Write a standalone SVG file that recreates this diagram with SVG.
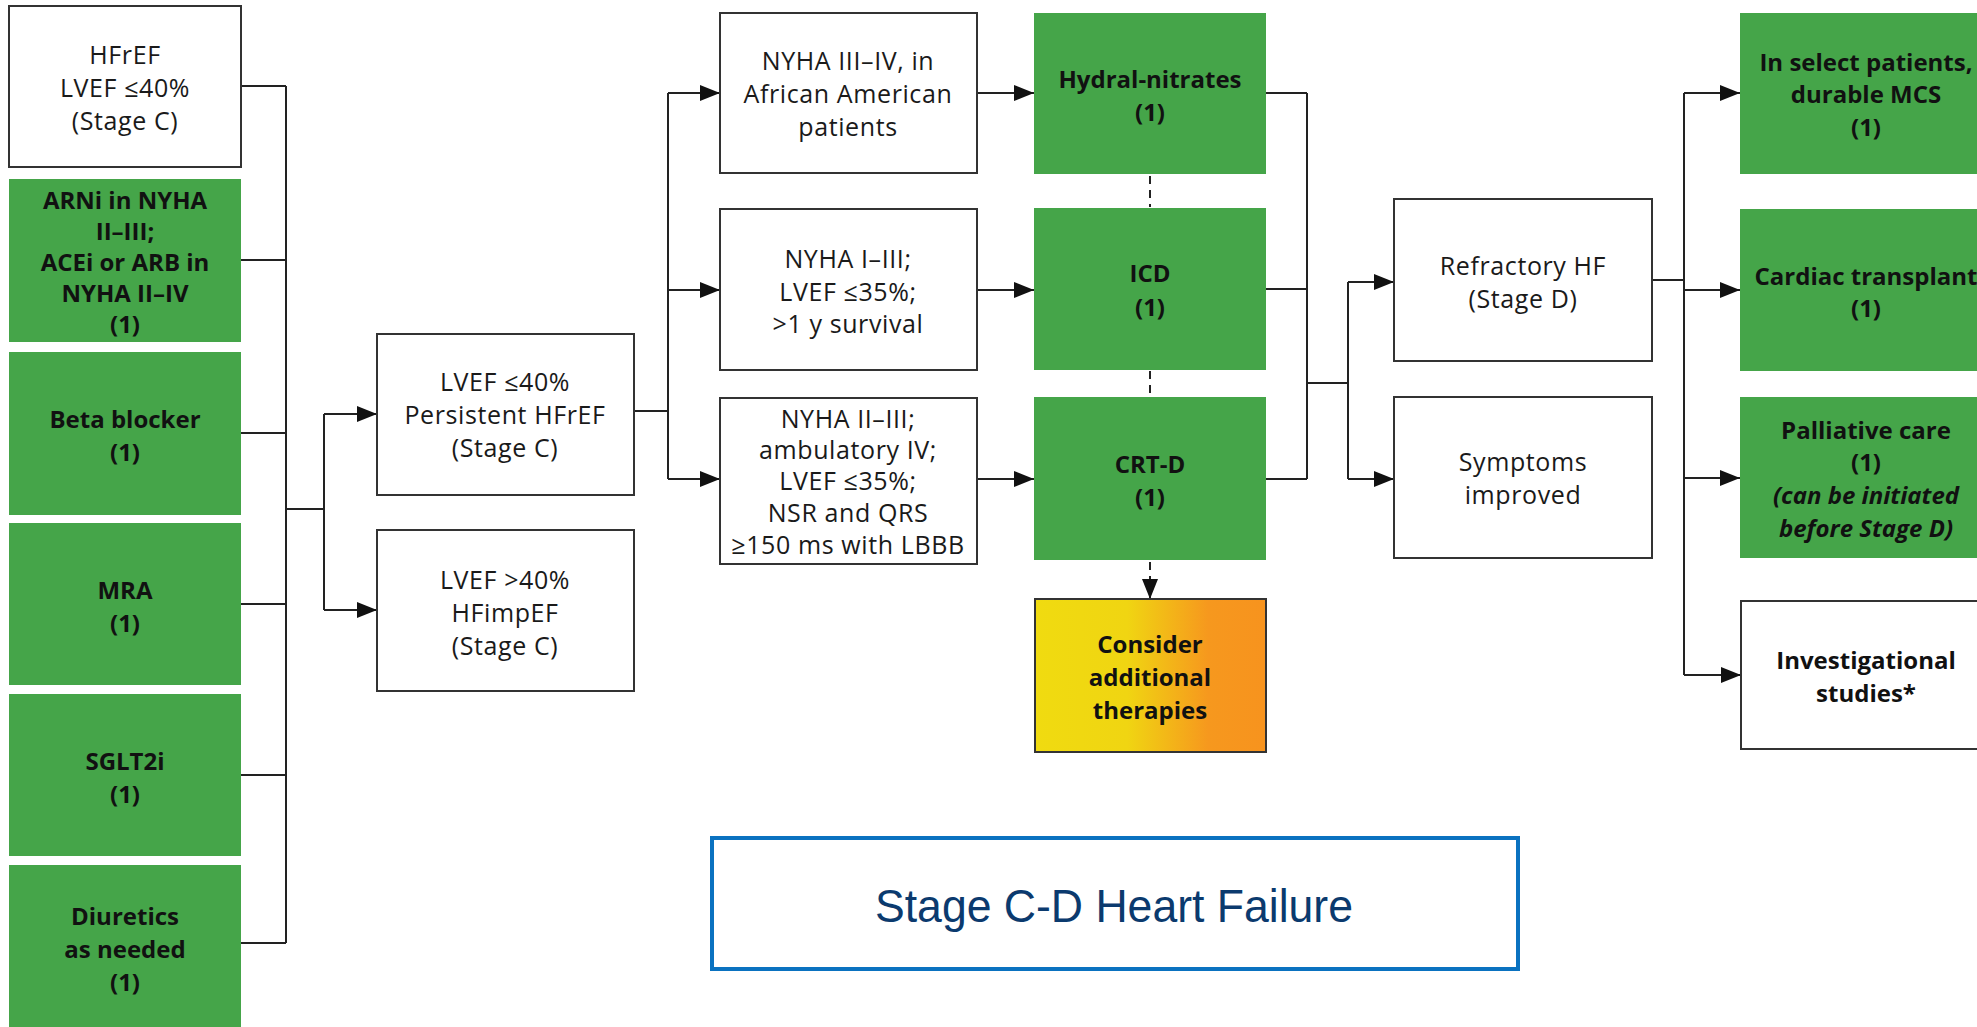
<svg xmlns="http://www.w3.org/2000/svg" width="1977" height="1027" viewBox="0 0 1977 1027">
  <style>
    .box { fill: #ffffff; stroke: #333333; stroke-width: 2; }
    .rx { fill: #45a549; stroke: none; }
    .t { font-family: "Open Sans", Lato, "Liberation Sans", sans-serif; font-size: 25px; letter-spacing: 0.6px; fill: #1a1a1a; text-anchor: middle; dominant-baseline: central; }
    .b { font-weight: bold; font-size: 24px; letter-spacing: 0; fill: #111111; }
    .i { font-style: italic; }
    .wire { fill: none; stroke: #222222; stroke-width: 2; }
    .dash { stroke-dasharray: 8 6; }
    .title { font-family: "Liberation Sans Narrow", "Liberation Sans", Arial, sans-serif; font-size: 46px; fill: #0b3a6e; text-anchor: middle; }
  </style>
  <defs>
    <marker id="arrow" markerUnits="userSpaceOnUse" markerWidth="20" markerHeight="16" viewBox="0 0 20 16" refX="20" refY="8" orient="auto">
      <path d="M0,0 L20,8 L0,16 z" fill="#111111"/>
    </marker>
    <linearGradient id="warm" x1="0" y1="0" x2="1" y2="0">
      <stop offset="0" stop-color="#f0db10"/>
      <stop offset="0.4" stop-color="#f0d512"/>
      <stop offset="0.75" stop-color="#f6981e"/>
      <stop offset="1" stop-color="#f7931e"/>
    </linearGradient>
  </defs>

  <rect width="1977" height="1027" fill="#ffffff"/>

  <!-- connectors -->
  <g id="connectors">
    <path class="wire" d="M241,86 H286 M241,260 H286 M241,433 H286 M241,604 H286 M241,775 H286 M241,943 H286 M286,86 V943 M286,509 H324 M324,414 V610"/>
    <path class="wire" marker-end="url(#arrow)" d="M324,414 H377"/>
    <path class="wire" marker-end="url(#arrow)" d="M324,610 H377"/>
    <path class="wire" d="M634,411 H668 M668,93 V479"/>
    <path class="wire" marker-end="url(#arrow)" d="M668,93 H720"/>
    <path class="wire" marker-end="url(#arrow)" d="M668,290 H720"/>
    <path class="wire" marker-end="url(#arrow)" d="M668,479 H720"/>
    <path class="wire" marker-end="url(#arrow)" d="M977,93 H1034"/>
    <path class="wire" marker-end="url(#arrow)" d="M977,290 H1034"/>
    <path class="wire" marker-end="url(#arrow)" d="M977,479 H1034"/>
    <path class="wire" d="M1266,93 H1307 M1266,289 H1307 M1266,479 H1307 M1307,93 V479 M1307,383 H1348 M1348,282 V479"/>
    <path class="wire" marker-end="url(#arrow)" d="M1348,282 H1394"/>
    <path class="wire" marker-end="url(#arrow)" d="M1348,479 H1394"/>
    <path class="wire" d="M1652,280 H1684 M1684,93 V675"/>
    <path class="wire" marker-end="url(#arrow)" d="M1684,93 H1740"/>
    <path class="wire" marker-end="url(#arrow)" d="M1684,290 H1740"/>
    <path class="wire" marker-end="url(#arrow)" d="M1684,478 H1740"/>
    <path class="wire" marker-end="url(#arrow)" d="M1684,675 H1741"/>
    <path class="wire dash" d="M1150,176 V207 M1150,371 V397"/>
    <path class="wire dash" marker-end="url(#arrow)" d="M1150,562 V599"/>
  </g>

  <!-- left column -->
  <g id="hfref">
    <rect class="box" x="9" y="6" width="232" height="161"/>
    <text class="t" x="125"><tspan x="125" y="54">HFrEF</tspan><tspan x="125" y="87">LVEF ≤40%</tspan><tspan x="125" y="120">(Stage C)</tspan></text>
  </g>
  <g id="arni">
    <rect class="rx" x="9" y="179" width="232" height="163"/>
    <text class="t b"><tspan x="125" y="199">ARNi in NYHA</tspan><tspan x="125" y="230">II–III;</tspan><tspan x="125" y="261">ACEi or ARB in</tspan><tspan x="125" y="292">NYHA II–IV</tspan><tspan x="125" y="323">(1)</tspan></text>
  </g>
  <g id="beta-blocker">
    <rect class="rx" x="9" y="352" width="232" height="163"/>
    <text class="t b"><tspan x="125" y="418">Beta blocker</tspan><tspan x="125" y="451">(1)</tspan></text>
  </g>
  <g id="mra">
    <rect class="rx" x="9" y="523" width="232" height="162"/>
    <text class="t b"><tspan x="125" y="589">MRA</tspan><tspan x="125" y="622">(1)</tspan></text>
  </g>
  <g id="sglt2i">
    <rect class="rx" x="9" y="694" width="232" height="162"/>
    <text class="t b"><tspan x="125" y="760">SGLT2i</tspan><tspan x="125" y="793">(1)</tspan></text>
  </g>
  <g id="diuretics">
    <rect class="rx" x="9" y="865" width="232" height="170"/>
    <text class="t b"><tspan x="125" y="915">Diuretics</tspan><tspan x="125" y="948">as needed</tspan><tspan x="125" y="981">(1)</tspan></text>
  </g>

  <!-- LVEF reassessment -->
  <g id="persistent-hfref">
    <rect class="box" x="377" y="334" width="257" height="161"/>
    <text class="t"><tspan x="505" y="381">LVEF ≤40%</tspan><tspan x="505" y="414">Persistent HFrEF</tspan><tspan x="505" y="447">(Stage C)</tspan></text>
  </g>
  <g id="hfimpef">
    <rect class="box" x="377" y="530" width="257" height="161"/>
    <text class="t"><tspan x="505" y="579">LVEF &gt;40%</tspan><tspan x="505" y="612">HFimpEF</tspan><tspan x="505" y="645">(Stage C)</tspan></text>
  </g>

  <!-- criteria -->
  <g id="crit-hydral">
    <rect class="box" x="720" y="13" width="257" height="160"/>
    <text class="t"><tspan x="848" y="60">NYHA III–IV, in</tspan><tspan x="848" y="93">African American</tspan><tspan x="848" y="126">patients</tspan></text>
  </g>
  <g id="crit-icd">
    <rect class="box" x="720" y="209" width="257" height="161"/>
    <text class="t"><tspan x="848" y="258">NYHA I–III;</tspan><tspan x="848" y="291">LVEF ≤35%;</tspan><tspan x="848" y="323">&gt;1 y survival</tspan></text>
  </g>
  <g id="crit-crtd">
    <rect class="box" x="720" y="398" width="257" height="166"/>
    <text class="t"><tspan x="848" y="418">NYHA II–III;</tspan><tspan x="848" y="449">ambulatory IV;</tspan><tspan x="848" y="480">LVEF ≤35%;</tspan><tspan x="848" y="512">NSR and QRS</tspan><tspan x="848" y="544">≥150 ms with LBBB</tspan></text>
  </g>

  <!-- device / drug therapies -->
  <g id="hydral-nitrates">
    <rect class="rx" x="1034" y="13" width="232" height="161"/>
    <text class="t b"><tspan x="1150" y="78">Hydral-nitrates</tspan><tspan x="1150" y="111">(1)</tspan></text>
  </g>
  <g id="icd">
    <rect class="rx" x="1034" y="208" width="232" height="162"/>
    <text class="t b"><tspan x="1150" y="272">ICD</tspan><tspan x="1150" y="306">(1)</tspan></text>
  </g>
  <g id="crt-d">
    <rect class="rx" x="1034" y="397" width="232" height="163"/>
    <text class="t b"><tspan x="1150" y="463">CRT-D</tspan><tspan x="1150" y="496">(1)</tspan></text>
  </g>
  <g id="additional-therapies">
    <rect x="1035" y="599" width="231" height="153" fill="url(#warm)" stroke="#333333" stroke-width="2"/>
    <text class="t b"><tspan x="1150" y="643">Consider</tspan><tspan x="1150" y="676">additional</tspan><tspan x="1150" y="709">therapies</tspan></text>
  </g>

  <!-- outcome -->
  <g id="refractory-hf">
    <rect class="box" x="1394" y="199" width="258" height="162"/>
    <text class="t"><tspan x="1523" y="265">Refractory HF</tspan><tspan x="1523" y="298">(Stage D)</tspan></text>
  </g>
  <g id="symptoms-improved">
    <rect class="box" x="1394" y="397" width="258" height="161"/>
    <text class="t"><tspan x="1523" y="461">Symptoms</tspan><tspan x="1523" y="494">improved</tspan></text>
  </g>

  <!-- stage D options -->
  <g id="durable-mcs">
    <rect class="rx" x="1740" y="13" width="250" height="161"/>
    <text class="t b"><tspan x="1866" y="61">In select patients,</tspan><tspan x="1866" y="93">durable MCS</tspan><tspan x="1866" y="126">(1)</tspan></text>
  </g>
  <g id="cardiac-transplant">
    <rect class="rx" x="1740" y="209" width="250" height="162"/>
    <text class="t b"><tspan x="1866" y="275">Cardiac transplant</tspan><tspan x="1866" y="307">(1)</tspan></text>
  </g>
  <g id="palliative-care">
    <rect class="rx" x="1740" y="397" width="250" height="161"/>
    <text class="t b"><tspan x="1866" y="429">Palliative care</tspan><tspan x="1866" y="461">(1)</tspan><tspan class="i" x="1866" y="494">(can be initiated</tspan><tspan class="i" x="1866" y="527">before Stage D)</tspan></text>
  </g>
  <g id="investigational-studies">
    <rect class="box" x="1741" y="601" width="260" height="148"/>
    <text class="t b"><tspan x="1866" y="659">Investigational</tspan><tspan x="1866" y="692">studies*</tspan></text>
  </g>

  <!-- title -->
  <g id="title">
    <rect x="712" y="838" width="806" height="131" fill="#ffffff" stroke="#0a72c0" stroke-width="4"/>
    <text class="title" x="1114" y="922" textLength="478" lengthAdjust="spacingAndGlyphs">Stage C-D Heart Failure</text>
  </g>
</svg>
